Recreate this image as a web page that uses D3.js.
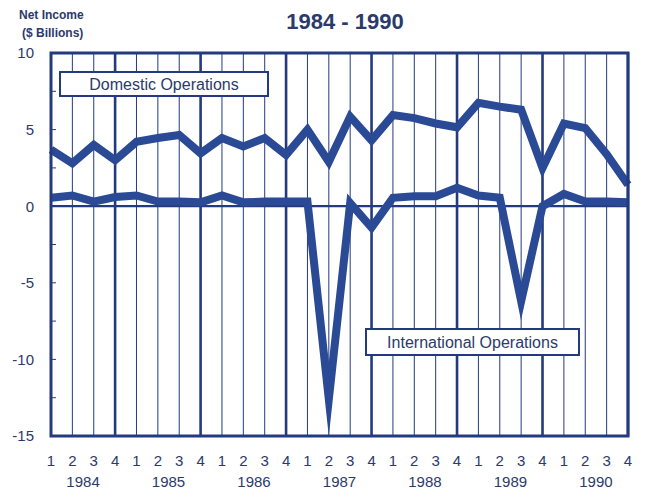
<!DOCTYPE html>
<html>
<head>
<meta charset="utf-8">
<script src="https://cdn.jsdelivr.net/npm/d3@7"></script>
<style>
  body { margin: 0; background: #fff; }
  text { font-family: "Liberation Sans", Arial, sans-serif; }
</style>
</head>
<body>
<div id="chart"></div>
<script>
// quarters 1984 Q1 .. 1990 Q4
const years = ["1984", "1985", "1986", "1987", "1988", "1989", "1990"];
const quarters = ["1", "2", "3", "4"];
const domestic = [3.7, 2.8, 4.0, 3.0, 4.2, 4.45, 4.65, 3.45,
                  4.45, 3.9, 4.45, 3.35, 5.0, 2.9, 5.85, 4.3,
                  5.95, 5.75, 5.4, 5.15, 6.75, 6.5, 6.3, 2.5,
                  5.4, 5.1, 3.4, 1.4];
const international = [0.55, 0.7, 0.3, 0.6, 0.7, 0.3, 0.3, 0.25,
                       0.7, 0.25, 0.3, 0.3, 0.3, -12.6, 0.2, -1.4,
                       0.55, 0.65, 0.65, 1.2, 0.7, 0.55, -6.2, 0.0,
                       0.8, 0.3, 0.3, 0.25];
const yTicks = [10, 5, 0, -5, -10, -15];

const W = 645, H = 491;
const margin = { top: 53, right: 17, bottom: 55, left: 51 };
const navy = "#243a7e";
const lineBlue = "#2a4a95";

const svg = d3.select("#chart").append("svg")
    .attr("width", W).attr("height", H);

// index of each quarter
const idx = d3.range(years.length * quarters.length);

const x = d3.scaleLinear()
    .domain([0, idx.length - 1])
    .range([margin.left, W - margin.right]);
const y = d3.scaleLinear()
    .domain([-15, 10])
    .range([H - margin.bottom, margin.top]);

// title + y label
svg.append("text")
    .attr("x", 345).attr("y", 29)
    .attr("text-anchor", "middle")
    .style("font-size", "22px").style("font-weight", "bold")
    .style("fill", "#2b3a6b")
    .text("1984 - 1990");
svg.append("text")
    .attr("x", 19).attr("y", 19)
    .style("font-size", "12px").style("font-weight", "bold")
    .style("fill", "#2b3a6b")
    .text("Net Income");
svg.append("text")
    .attr("x", 22).attr("y", 37)
    .style("font-size", "12px").style("font-weight", "bold")
    .style("fill", "#2b3a6b")
    .text("($ Billions)");

// vertical grid, thicker at each Q4
svg.append("g").selectAll("line")
    .data(idx)
    .join("line")
    .attr("x1", d => x(d)).attr("x2", d => x(d))
    .attr("y1", y(10)).attr("y2", y(-15))
    .attr("stroke", navy)
    .attr("stroke-width", d => d % 4 === 3 ? 2.6 : 1);

// small ticks inside left edge
svg.append("g").selectAll("line")
    .data(d3.range(-12.5, 10, 2.5))
    .join("line")
    .attr("x1", x(0)).attr("x2", x(0) + 5)
    .attr("y1", d => y(d)).attr("y2", d => y(d))
    .attr("stroke", navy).attr("stroke-width", 1);

// zero line
svg.append("line")
    .attr("x1", x(0)).attr("x2", x(idx.length - 1))
    .attr("y1", y(0)).attr("y2", y(0))
    .attr("stroke", navy).attr("stroke-width", 2.2);

// y tick labels
svg.append("g").selectAll("text")
    .data(yTicks)
    .join("text")
    .attr("x", 34).attr("y", d => y(d))
    .attr("dy", "0.36em")
    .attr("text-anchor", "end")
    .style("font-size", "15px")
    .style("fill", "#2b3a6b")
    .text(d => d);

// series lines
const line = d3.line()
    .x((d, i) => x(i))
    .y(d => y(d));

[domestic, international].forEach(series => {
    svg.append("path")
        .datum(series)
        .attr("d", line)
        .attr("fill", "none")
        .attr("stroke", lineBlue)
        .attr("stroke-width", 8)
        .attr("stroke-linejoin", "miter")
        .attr("stroke-miterlimit", 30);
});

// frame
svg.append("rect")
    .attr("x", x(0)).attr("y", y(10))
    .attr("width", x(idx.length - 1) - x(0))
    .attr("height", y(-15) - y(10))
    .attr("fill", "none")
    .attr("stroke", navy).attr("stroke-width", 3);

// labels in boxes
function boxLabel(bx, by, bw, bh, label) {
    svg.append("rect")
        .attr("x", bx).attr("y", by)
        .attr("width", bw).attr("height", bh)
        .attr("fill", "#fff")
        .attr("stroke", navy).attr("stroke-width", 2);
    svg.append("text")
        .attr("x", bx + bw / 2).attr("y", by + bh / 2)
        .attr("dy", "0.36em")
        .attr("text-anchor", "middle")
        .style("font-size", "16px")
        .style("fill", "#2b3a6b")
        .text(label);
}
boxLabel(60, 72, 208, 24, "Domestic Operations");
boxLabel(366, 329, 213, 26, "International Operations");

// quarter labels
svg.append("g").selectAll("text")
    .data(idx)
    .join("text")
    .attr("x", d => x(d)).attr("y", 466)
    .attr("text-anchor", "middle")
    .style("font-size", "15px")
    .style("fill", "#2b3a6b")
    .text(d => quarters[d % 4]);

// year labels
svg.append("g").selectAll("text")
    .data(years)
    .join("text")
    .attr("x", (d, i) => x(i * 4 + 1.5)).attr("y", 487)
    .attr("text-anchor", "middle")
    .style("font-size", "15px")
    .style("fill", "#2b3a6b")
    .text(d => d);
</script>
</body>
</html>
